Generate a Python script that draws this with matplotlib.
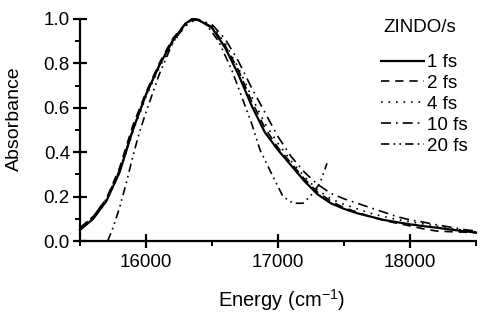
import matplotlib
matplotlib.use('Agg')
import matplotlib.pyplot as plt
from matplotlib.ticker import MultipleLocator

plt.rcParams['font.family'] = ['Liberation Sans', 'DejaVu Sans']
plt.rcParams['mathtext.fontset'] = 'custom'
plt.rcParams['mathtext.rm'] = 'Liberation Sans'

# 1 fs
e_1fs = [15500, 15600, 15700, 15800, 15900, 16000, 16100, 16200, 16300, 16350,
         16400, 16500, 16600, 16700, 16800, 16900, 17000, 17100, 17200, 17300,
         17400, 17500, 17600, 17700, 17800, 17900, 18000, 18100, 18200, 18300,
         18400, 18500]
a_1fs = [0.05, 0.10, 0.18, 0.31, 0.50, 0.66, 0.79, 0.90, 0.98, 1.00,
         0.995, 0.96, 0.87, 0.75, 0.61, 0.49, 0.41, 0.34, 0.27, 0.21,
         0.17, 0.145, 0.125, 0.11, 0.095, 0.085, 0.075, 0.067, 0.06, 0.052,
         0.045, 0.038]

# 2 fs
e_2fs = [15500, 15600, 15700, 15800, 15900, 16000, 16100, 16200, 16300, 16360,
         16400, 16500, 16600, 16700, 16800, 16900, 17000, 17100, 17200, 17300,
         17400, 17500, 17600, 17700, 17800, 17900, 18000, 18100, 18200, 18300,
         18400, 18500]
a_2fs = [0.055, 0.11, 0.19, 0.33, 0.52, 0.67, 0.80, 0.91, 0.98, 1.00,
         0.995, 0.965, 0.88, 0.77, 0.63, 0.51, 0.42, 0.35, 0.28, 0.22,
         0.18, 0.15, 0.13, 0.11, 0.093, 0.08, 0.068, 0.055, 0.045, 0.042,
         0.04, 0.037]

# 4 fs
e_4fs = [15500, 15600, 15700, 15800, 15900, 16000, 16100, 16200, 16300, 16370,
         16400, 16500, 16600, 16700, 16800, 16900, 17000, 17100, 17200, 17300,
         17400, 17500, 17600, 17700, 17800, 17900, 18000, 18100, 18200, 18300,
         18400, 18500]
a_4fs = [0.05, 0.10, 0.18, 0.31, 0.49, 0.65, 0.78, 0.89, 0.97, 1.00,
         0.998, 0.97, 0.89, 0.78, 0.65, 0.53, 0.44, 0.36, 0.29, 0.23,
         0.19, 0.165, 0.145, 0.125, 0.11, 0.097, 0.087, 0.077, 0.067, 0.057,
         0.049, 0.041]

# 10 fs
e_10fs = [15500, 15600, 15700, 15800, 15900, 16000, 16100, 16200, 16300, 16380,
          16500, 16600, 16700, 16800, 16900, 17000, 17100, 17200, 17300, 17400,
          17500, 17600, 17700, 17800, 17900, 18000, 18100, 18200, 18300, 18400,
          18500]
a_10fs = [0.06, 0.11, 0.19, 0.32, 0.50, 0.66, 0.79, 0.90, 0.97, 1.00,
          0.975, 0.91, 0.81, 0.69, 0.58, 0.47, 0.38, 0.31, 0.255, 0.215,
          0.19, 0.17, 0.15, 0.13, 0.11, 0.095, 0.085, 0.073, 0.063, 0.052,
          0.045]

# 20 fs
e_20fs = [15710, 15750, 15800, 15850, 15900, 15950, 16000, 16100, 16200, 16300,
          16370, 16450, 16550, 16650, 16750, 16800, 16864, 16962, 17038, 17114,
          17189, 17242, 17318, 17371]
a_20fs = [0.0, 0.06, 0.15, 0.26, 0.38, 0.49, 0.58, 0.75, 0.89, 0.98,
          1.00, 0.98, 0.90, 0.77, 0.61, 0.53, 0.41, 0.29, 0.20, 0.17,
          0.17, 0.20, 0.26, 0.35]

fig = plt.figure(figsize=(4.86, 3.17), dpi=100)
ax = fig.add_axes([80/486, 1-241/317, 396/486, 222/317])

lw = 1.2
ax.plot(e_1fs, a_1fs, color='black', lw=1.6, ls='-', label='1 fs', clip_on=False)
ax.plot(e_2fs, a_2fs, color='black', lw=lw, ls=(0, (5, 3.5)), label='2 fs', clip_on=False)
ax.plot(e_4fs, a_4fs, color='black', lw=lw, ls=(0, (1, 3.5)), label='4 fs', clip_on=False)
ax.plot(e_10fs, a_10fs, color='black', lw=lw, ls=(0, (6, 3, 1, 3)), label='10 fs', clip_on=False)
ax.plot(e_20fs, a_20fs, color='black', lw=lw, ls=(0, (5, 2.5, 1, 2.5, 1, 2.5)), label='20 fs', clip_on=False)

ax.set_xlim(15500, 18500)
ax.set_ylim(0, 1.0)
ax.xaxis.set_major_locator(MultipleLocator(1000))
ax.xaxis.set_minor_locator(MultipleLocator(500))
ax.yaxis.set_major_locator(MultipleLocator(0.2))
ax.yaxis.set_minor_locator(MultipleLocator(0.1))
ax.yaxis.set_major_formatter(plt.FormatStrFormatter('%.1f'))

for s in ['top', 'right']:
    ax.spines[s].set_visible(False)
for s in ['left', 'bottom']:
    ax.spines[s].set_linewidth(1.6)

ax.tick_params(which='major', direction='inout', length=10.5, width=1.6, labelsize=13.5)
ax.tick_params(axis='x', which='major', pad=4)
ax.tick_params(axis='y', which='major', pad=2)
ax.tick_params(which='minor', direction='out', length=3.5, width=1.4)

ax.set_xlabel('Energy (cm$^{-1}$)', fontsize=14.5)
ax.set_ylabel('Absorbance', fontsize=14)
ax.xaxis.set_label_coords((282-80)/396, -(300-241)/222)
ax.yaxis.set_label_coords(-(80-14)/396, (241-119)/222)
ax.xaxis.label.set_va('center')
ax.yaxis.label.set_va('center')

fig.text(383/486, 1-28/317, 'ZINDO/s', fontsize=13.5, va='center', ha='left')
leg = ax.legend(loc='upper left', bbox_to_anchor=(381/486, 1-54/317),
                bbox_transform=fig.transFigure,
                frameon=False, fontsize=13.5,
                handlelength=2.3, handletextpad=0.15, labelspacing=0.2,
                borderaxespad=0, borderpad=0)

fig.savefig('out.png', dpi=100)
